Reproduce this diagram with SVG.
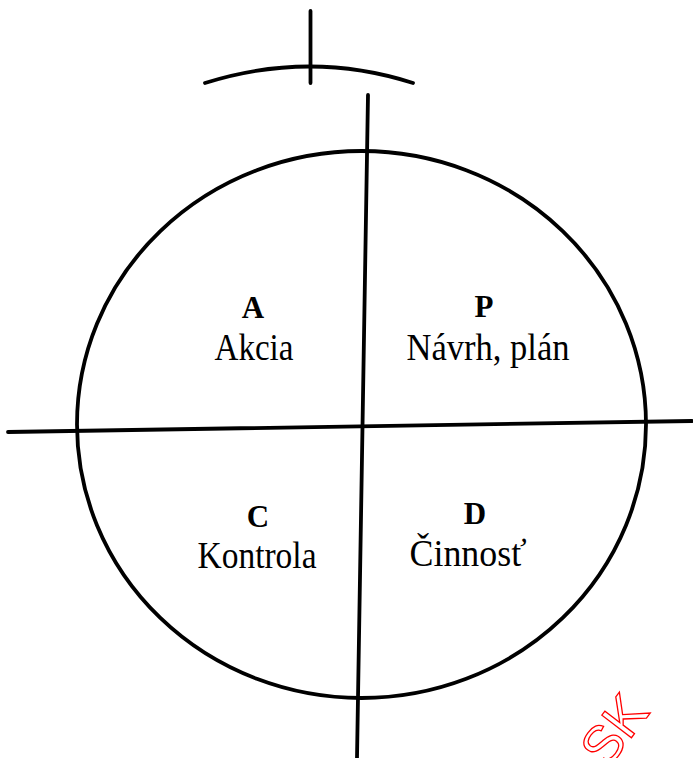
<svg xmlns="http://www.w3.org/2000/svg" width="693" height="758" viewBox="0 0 693 758">
  <style>
    .ln { fill: none; stroke: #000; stroke-width: 3.8; stroke-linecap: round; }
    .hd { font-family: "Liberation Serif", "Times New Roman", serif; font-weight: bold; font-size: 31px; fill: #000; text-anchor: middle; }
    .tx { font-family: "Liberation Serif", "Times New Roman", serif; font-size: 38px; fill: #000; text-anchor: middle; }
    .wm { font-family: "Liberation Sans", Arial, sans-serif; font-size: 54px; fill: #fff; stroke: #f00; stroke-width: 1.3; }
  </style>
  <rect width="693" height="758" fill="#fff"/>
  <g id="top-mark">
    <path class="ln" d="M205,83 Q310,50 413,83" stroke-linecap="butt"/>
    <line class="ln" x1="310.5" y1="11" x2="310.5" y2="83" stroke-linecap="butt"/>
  </g>
  <g id="cycle">
    <ellipse class="ln" cx="361.5" cy="424.5" rx="284.5" ry="273.5"/>
  </g>
  <g id="connectors">
    <line class="ln" x1="368" y1="95" x2="357" y2="758"/>
    <line class="ln" x1="8" y1="432" x2="692" y2="421"/>
  </g>
  <g id="node-A">
    <text class="hd" x="253" y="318">A</text>
    <text class="tx" x="254" y="360" textLength="79" lengthAdjust="spacingAndGlyphs">Akcia</text>
  </g>
  <g id="node-P">
    <text class="hd" x="484" y="317">P</text>
    <text class="tx" x="488" y="360" textLength="163" lengthAdjust="spacingAndGlyphs">Návrh, plán</text>
  </g>
  <g id="node-C">
    <text class="hd" x="258" y="527">C</text>
    <text class="tx" x="257" y="568" textLength="119" lengthAdjust="spacingAndGlyphs">Kontrola</text>
  </g>
  <g id="node-D">
    <text class="hd" x="475" y="524">D</text>
    <text class="tx" x="468" y="566" textLength="117" lengthAdjust="spacingAndGlyphs">Činnosť</text>
  </g>
  <g id="watermark">
    <text class="wm" transform="translate(607,770) rotate(-52.7)">SK</text>
  </g>
</svg>
